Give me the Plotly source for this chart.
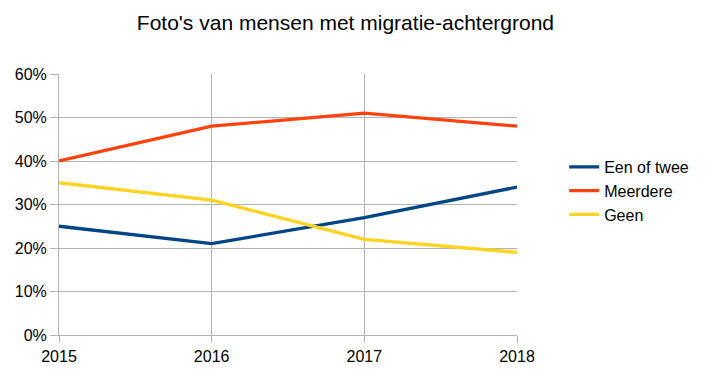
import plotly.graph_objects as go

years = [2015, 2016, 2017, 2018]
een_of_twee = [0.25, 0.21, 0.27, 0.34]
meerdere = [0.40, 0.48, 0.51, 0.48]
geen = [0.35, 0.31, 0.22, 0.19]
series_names = ["Een of twee", "Meerdere", "Geen"]
colors = ["#004586", "#ff420e", "#ffd320"]

fig = go.Figure()
for name, vals, c in zip(series_names, [een_of_twee, meerdere, geen], colors):
    fig.add_trace(go.Scatter(x=years, y=vals, mode="lines", name=name,
                             line=dict(color=c, width=3.3)))

font = "Liberation Sans, Arial, sans-serif"
fig.update_layout(
    width=705, height=381,
    margin=dict(l=59, r=188, t=74, b=46, autoexpand=False),
    paper_bgcolor="white", plot_bgcolor="white",
    font=dict(family=font, size=16, color="black"),
    title=dict(text="Foto's van mensen met migratie-achtergrond", x=0.49, xanchor="center",
               y=0.94, yanchor="middle", font=dict(size=21, family=font)),
    showlegend=True,
    legend=dict(x=1.103, xanchor="left", y=0.552, yanchor="middle",
                font=dict(size=16), tracegroupgap=0, itemwidth=30),
    xaxis=dict(range=[2015, 2018], tickvals=years, ticktext=[str(y) for y in years],
               showgrid=True, gridcolor="#b3b3b3", gridwidth=1,
               showline=True, linecolor="#b3b3b3", ticks="outside", ticklen=7,
               tickcolor="#b3b3b3", zeroline=False, fixedrange=True),
    yaxis=dict(range=[0, 0.6], tickvals=[0, 0.1, 0.2, 0.3, 0.4, 0.5, 0.6],
               tickformat=".0%", showgrid=True, gridcolor="#b3b3b3", gridwidth=1,
               showline=True, linecolor="#b3b3b3", ticks="outside", ticklen=8,
               tickcolor="#b3b3b3", zeroline=False, fixedrange=True),
)
fig.write_html("out.html", config={"displayModeBar": False},
               post_script="document.body.style.margin='0';")
